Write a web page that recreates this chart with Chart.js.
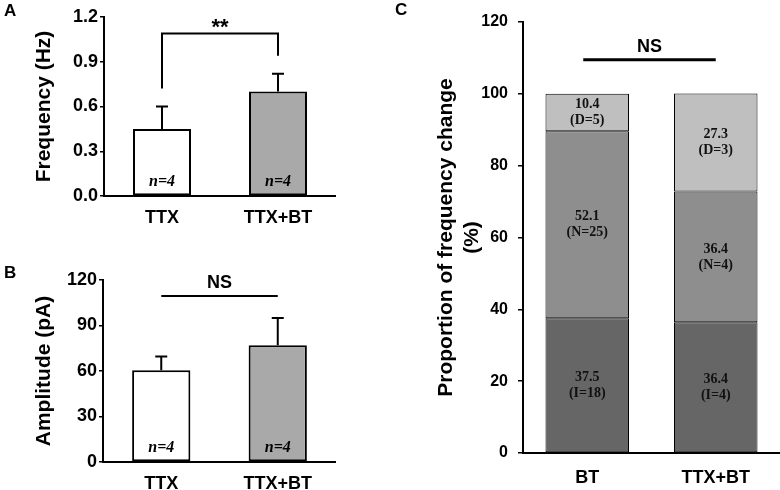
<!DOCTYPE html>
<html>
<head>
<meta charset="utf-8">
<script src="https://cdn.jsdelivr.net/npm/chart.js@4/dist/chart.umd.min.js"></script>
<style>
body { margin: 0; background: #fff; width: 780px; height: 490px; position: relative; overflow: hidden; font-family: "Liberation Sans", Arial, sans-serif; }
canvas { position: absolute; }
.tag { position: absolute; font-weight: bold; font-size: 17px; z-index: 2; }
</style>
</head>
<body>
<canvas id="chartA" width="336" height="225" style="left:0;top:0"></canvas>
<canvas id="chartB" width="336" height="265" style="left:0;top:225px"></canvas>
<canvas id="chartC" width="400" height="490" style="left:380px;top:0"></canvas>
<div class="tag" style="left:4px;top:1px">A</div>
<div class="tag" style="left:4px;top:263px">B</div>
<div class="tag" style="left:395px;top:0">C</div>
<script>
// panel A / B: mean + SEM
const groups = ["TTX", "TTX+BT"];
const freqMean = [0.45, 0.70];
const freqErr = [0.15, 0.12];
const ampMean = [60.5, 77.0];
const ampErr = [9.0, 18.0];
const nCells = [4, 4];
const freqTicks = [0, 0.3, 0.6, 0.9, 1.2];
const ampTicks = [0, 30, 60, 90, 120];

// panel C: proportion of frequency change (%)
const propGroups = ["BT", "TTX+BT"];
const pctI = [37.5, 36.4];
const pctN = [52.1, 36.4];
const pctD = [10.4, 27.3];
const cntI = [18, 4];
const cntN = [25, 4];
const cntD = [5, 3];
const propTicks = [0, 20, 40, 60, 80, 100, 120];

Chart.defaults.font.family = "'Liberation Sans', Arial, sans-serif";
Chart.defaults.color = "#000";

// error bars, n= labels and the significance mark
function errorPlugin(means, errs, counts, mark) {
  return {
    id: "errorBars",
    afterDatasetsDraw(chart) {
      const ctx = chart.ctx, y = chart.scales.y;
      const bars = chart.getDatasetMeta(0).data;
      ctx.save();
      ctx.strokeStyle = "#000";
      ctx.fillStyle = "#000";
      ctx.lineWidth = 2;
      bars.forEach((bar, i) => {
        const top = y.getPixelForValue(means[i] + errs[i]);
        ctx.beginPath();
        ctx.moveTo(bar.x, bar.y);
        ctx.lineTo(bar.x, top);
        ctx.moveTo(bar.x - 6, top);
        ctx.lineTo(bar.x + 6, top);
        ctx.stroke();
        ctx.font = "italic bold 16px 'Liberation Serif'";
        ctx.textAlign = "center";
        ctx.textBaseline = "middle";
        ctx.fillText("n=" + counts[i], bar.x, y.getPixelForValue(0) - 14);
      });
      const x0 = bars[0].x, x1 = bars[1].x;
      const lineY = y.getPixelForValue(mark.level);
      ctx.beginPath();
      if (mark.gap) {
        ctx.moveTo(x0, y.getPixelForValue(means[0] + errs[0] + mark.gap));
        ctx.lineTo(x0, lineY);
        ctx.lineTo(x1, lineY);
        ctx.lineTo(x1, y.getPixelForValue(means[1] + errs[1] + mark.gap));
      } else {
        ctx.moveTo(x0, lineY);
        ctx.lineTo(x1, lineY);
      }
      ctx.stroke();
      ctx.font = "bold " + mark.size + "px 'Liberation Sans'";
      ctx.textAlign = "center";
      ctx.textBaseline = "alphabetic";
      ctx.fillText(mark.text, (x0 + x1) / 2, lineY - mark.lift);
      ctx.restore();
    }
  };
}

function meanChart(id, means, errs, ticks, decimals, title, padTop, yWidth, xHeight, mark) {
  return new Chart(document.getElementById(id), {
    type: "bar",
    data: {
      labels: groups,
      datasets: [{
        data: means,
        backgroundColor: ["#ffffff", "#a9a9a9"],
        borderColor: "#000",
        borderWidth: 2,
        borderSkipped: false,
        barPercentage: 0.5,
        categoryPercentage: 1
      }]
    },
    options: {
      responsive: false,
      animation: false,
      devicePixelRatio: 1,
      layout: { padding: { top: padTop, left: 0, right: 0, bottom: 0 } },
      plugins: { legend: { display: false }, tooltip: { enabled: false } },
      scales: {
        x: {
          grid: { display: false },
          border: { color: "#000", width: 2 },
          ticks: { font: { size: 18, weight: "bold" }, padding: 3 },
          afterFit: s => { s.height = xHeight; }
        },
        y: {
          min: ticks[0],
          max: ticks[ticks.length - 1],
          afterBuildTicks: s => { s.ticks = ticks.map(v => ({ value: v })); },
          ticks: { font: { size: 18, weight: "bold" }, padding: 2, callback: v => v.toFixed(decimals) },
          grid: { drawOnChartArea: false, tickLength: 4, color: "#000", lineWidth: 1.5 },
          border: { color: "#000", width: 2 },
          title: { display: true, text: title, font: { size: 21, weight: "bold" }, padding: { top: 32, bottom: 0 } },
          afterFit: s => { s.width = yWidth; }
        }
      }
    },
    plugins: [errorPlugin(means, errs, nCells, mark)]
  });
}

meanChart("chartA", freqMean, freqErr, freqTicks, 1, "Frequency (Hz)", 17, 104, 29,
  { level: 1.09, gap: 0.12, text: "**", size: 22, lift: -1 });
meanChart("chartB", ampMean, ampErr, ampTicks, 0, "Amplitude (pA)", 55, 103, 28,
  { level: 109.5, gap: 0, text: "NS", size: 18, lift: 8 });

// labels inside the stacked segments + NS line
const stackLabels = {
  id: "stackLabels",
  afterDatasetsDraw(chart) {
    const ctx = chart.ctx, y = chart.scales.y;
    const counts = [cntI, cntN, cntD];
    const letters = ["I", "N", "D"];
    ctx.save();
    ctx.fillStyle = "#111";
    ctx.font = "bold 14px 'Liberation Serif'";
    ctx.textAlign = "center";
    ctx.textBaseline = "middle";
    chart.data.datasets.forEach((ds, d) => {
      chart.getDatasetMeta(d).data.forEach((bar, i) => {
        const cy = (bar.y + bar.base) / 2;
        ctx.fillText(ds.data[i].toFixed(1), bar.x, cy - 8);
        ctx.fillText("(" + letters[d] + "=" + counts[d][i] + ")", bar.x, cy + 8);
      });
    });
    const bars = chart.getDatasetMeta(0).data;
    const lineY = y.getPixelForValue(109.5);
    ctx.strokeStyle = "#000";
    ctx.lineWidth = 3;
    ctx.beginPath();
    ctx.moveTo(bars[0].x - 4, lineY);
    ctx.lineTo(bars[1].x, lineY);
    ctx.stroke();
    ctx.fillStyle = "#000";
    ctx.font = "bold 18px 'Liberation Sans'";
    ctx.textBaseline = "alphabetic";
    ctx.fillText("NS", (bars[0].x + bars[1].x) / 2 - 2, lineY - 8);
    ctx.restore();
  }
};

const segStyle = { borderColor: "#000", borderWidth: 1, borderSkipped: false, barPercentage: 0.65, categoryPercentage: 1 };

new Chart(document.getElementById("chartC"), {
  type: "bar",
  data: {
    labels: propGroups,
    datasets: [
      Object.assign({ label: "I", data: pctI, backgroundColor: "#666666" }, segStyle),
      Object.assign({ label: "N", data: pctN, backgroundColor: "#8e8e8e" }, segStyle),
      Object.assign({ label: "D", data: pctD, backgroundColor: "#bfbfbf" }, segStyle)
    ]
  },
  options: {
    responsive: false,
    animation: false,
    devicePixelRatio: 1,
    layout: { padding: { top: 22, left: 0, right: 0, bottom: 0 } },
    plugins: { legend: { display: false }, tooltip: { enabled: false } },
    scales: {
      x: {
        stacked: true,
        grid: { display: false },
        border: { color: "#000", width: 2 },
        ticks: { font: { size: 18, weight: "bold" }, padding: 6 },
        afterFit: s => { s.height = 37; }
      },
      y: {
        stacked: true,
        min: 0,
        max: 120,
        afterBuildTicks: s => { s.ticks = propTicks.map(v => ({ value: v })); },
        ticks: { font: { size: 16, weight: "bold" }, padding: 10 },
        grid: { drawOnChartArea: false, tickLength: 5, color: "#000", lineWidth: 1.5 },
        border: { color: "#000", width: 2 },
        title: { display: true, text: ["Proportion of frequency change", "(%)"], font: { size: 21, weight: "bold" }, padding: { top: 54, bottom: 0 } },
        afterFit: s => { s.width = 143; }
      }
    }
  },
  plugins: [stackLabels]
});
</script>
</body>
</html>
